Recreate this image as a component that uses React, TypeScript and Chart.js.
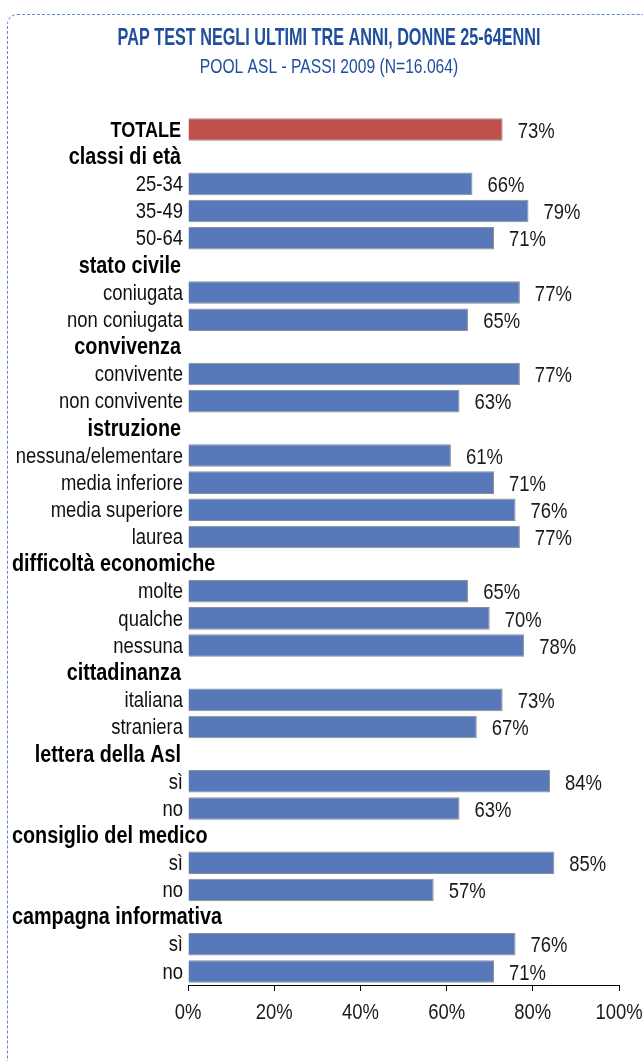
import React, { useEffect, useRef } from "react";
import { Chart, registerables } from "chart.js";

Chart.register(...registerables);

const TITLE = "PAP TEST NEGLI ULTIMI TRE ANNI, DONNE 25-64ENNI";
const SUBTITLE = "POOL ASL - PASSI 2009 (N=16.064)";

const categories = [
  "TOTALE",
  "classi di età",
  "25-34",
  "35-49",
  "50-64",
  "stato civile",
  "coniugata",
  "non coniugata",
  "convivenza",
  "convivente",
  "non convivente",
  "istruzione",
  "nessuna/elementare",
  "media inferiore",
  "media superiore",
  "laurea",
  "difficoltà economiche",
  "molte",
  "qualche",
  "nessuna",
  "cittadinanza",
  "italiana",
  "straniera",
  "lettera della Asl",
  "sì",
  "no",
  "consiglio del medico",
  "sì",
  "no",
  "campagna informativa",
  "sì",
  "no",
];

const values: (number | null)[] = [
  73,
  null, 66, 79, 71,
  null, 77, 65,
  null, 77, 63,
  null, 61, 71, 76, 77,
  null, 65, 70, 78,
  null, 73, 67,
  null, 84, 63,
  null, 85, 57,
  null, 76, 71,
];

const xTicks = [0, 20, 40, 60, 80, 100];

const BLUE = "#5879b9";
const RED = "#c0504d";
const TITLE_BLUE = "#1f4f9c";
const FONT = "'Liberation Sans', Arial, sans-serif";
const NARROW = 0.82;

function drawText(
  ctx: CanvasRenderingContext2D,
  text: string,
  x: number,
  y: number,
  font: string,
  align: CanvasTextAlign,
  sx: number,
  color: string
) {
  ctx.save();
  ctx.font = font;
  ctx.fillStyle = color;
  ctx.textAlign = align;
  ctx.textBaseline = "middle";
  ctx.translate(x, y);
  ctx.scale(sx, 1);
  ctx.fillText(text, 0, 0);
  ctx.restore();
}

export default function App() {
  const canvasRef = useRef<HTMLCanvasElement | null>(null);

  useEffect(() => {
    const canvas = canvasRef.current;
    if (!canvas) return;

    const labelPlugin = {
      id: "customLabels",
      afterDraw(chart: any) {
        const ctx: CanvasRenderingContext2D = chart.ctx;
        const yScale = chart.scales.y;
        const xScale = chart.scales.x;
        const area = chart.chartArea;

        drawText(ctx, TITLE, 329, 39, `bold 23px ${FONT}`, "center", 0.705, TITLE_BLUE);
        drawText(ctx, SUBTITLE, 329, 67, `21px ${FONT}`, "center", 0.745, TITLE_BLUE);

        categories.forEach((cat, i) => {
          const y = yScale.getPixelForValue(i);
          const v = values[i];
          const bold = v === null || i === 0;
          if (bold) {
            const font = i === 0 ? `bold 22px ${FONT}` : `bold 23px ${FONT}`;
            const sx = i === 0 ? NARROW : 0.86;
            ctx.save();
            ctx.font = font;
            const w = ctx.measureText(cat).width * sx;
            ctx.restore();
            const right = area.left - 7;
            if (right - w < 12) {
              drawText(ctx, cat, 12, y + 1, font, "left", sx, "#000");
            } else {
              drawText(ctx, cat, right, y + 1, font, "right", sx, "#000");
            }
          } else {
            drawText(ctx, cat, area.left - 5, y + 1, `22.5px ${FONT}`, "right", NARROW, "#111");
          }
          if (v !== null) {
            drawText(ctx, v + "%", xScale.getPixelForValue(v) + 15, y + 2, `22.5px ${FONT}`, "left", NARROW, "#1a1a1a");
          }
        });

        xTicks.forEach((t) => {
          drawText(ctx, t + "%", xScale.getPixelForValue(t), area.bottom + 28, `22.5px ${FONT}`, "center", NARROW, "#1a1a1a");
        });
      },
    };

    const chart = new Chart(canvas, {
      type: "bar",
      data: {
        labels: categories,
        datasets: [
          {
            data: values as any,
            backgroundColor: values.map((_, i) => (i === 0 ? RED : BLUE)),
            borderColor: "#8f8f8f",
            borderWidth: 1,
            barPercentage: 0.83,
            categoryPercentage: 1,
          },
        ],
      },
      options: {
        indexAxis: "y",
        animation: false,
        responsive: false,
        devicePixelRatio: 1,
        layout: { padding: { left: 188, right: 24, top: 116, bottom: 31 } },
        plugins: {
          legend: { display: false },
          tooltip: { enabled: false },
          title: { display: false },
        },
        scales: {
          y: {
            ticks: { display: false },
            grid: { display: false },
            border: { display: false },
            afterFit: (s: any) => {
              s.width = 0;
            },
          },
          x: {
            min: 0,
            max: 100,
            afterBuildTicks: (s: any) => {
              s.ticks = xTicks.map((v) => ({ value: v }));
            },
            ticks: { display: false },
            grid: {
              drawOnChartArea: false,
              tickLength: 6,
              color: "#000",
            },
            border: { display: true, color: "#000", width: 1 },
            afterFit: (s: any) => {
              s.height = 45;
              s.paddingLeft = 0;
              s.paddingRight = 0;
            },
          },
        },
      },
      plugins: [labelPlugin],
    });

    return () => chart.destroy();
  }, []);

  return (
    <div style={{ position: "fixed", left: 0, top: 0, width: 643, height: 1061, background: "#fff", overflow: "hidden" }}>
      <canvas ref={canvasRef} width={643} height={1061} style={{ position: "absolute", left: 0, top: 0 }} />
      <div
        style={{
          position: "absolute",
          left: 7,
          top: 14,
          width: 700,
          height: 1100,
          border: "1px dashed #5b8ad0",
          borderTopLeftRadius: 10,
          pointerEvents: "none",
        }}
      />
    </div>
  );
}
